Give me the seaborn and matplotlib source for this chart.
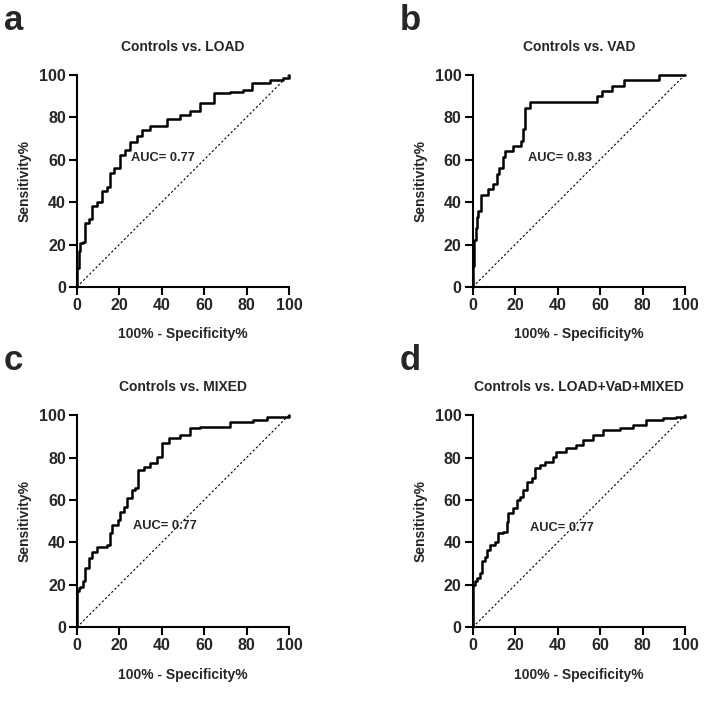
import pandas as pd
import seaborn as sns
import matplotlib.pyplot as plt

# ROC curve corners (100% - specificity, sensitivity)
load_fpr = [0, 0, 0.8, 1.6, 3.1, 3.9, 5.5, 7.1, 9.4, 11.8, 14.1, 15.7, 17.3, 20.4, 22.8, 25.1,
            28.3, 30.6, 34.5, 42.4, 48.7, 53.4, 58.1, 64.4, 72.2, 78.5, 82.4, 91, 97.3, 100]
load_tpr = [0, 9, 17, 20.5, 21, 30, 32, 38, 40, 45, 47, 53.5, 56, 62, 64.5, 68.5,
            71, 74, 76, 79, 81, 82.7, 86.6, 91.3, 92, 93, 96, 97.6, 98.4, 100]

vad_fpr = [0, 0, 0.5, 0.8, 1.3, 1.9, 2.7, 3.9, 7.1, 9.4, 11.3, 12.2, 14.1, 15.4, 18.8, 22.8,
           23.5, 24.6, 27.2, 57.5, 58.5, 61, 65.5, 71.5, 88, 100]
vad_tpr = [0, 10, 16, 22, 28, 33, 36, 43.2, 46.3, 48.7, 53.4, 56.2, 61.2, 64.1, 66.2, 69,
           74.6, 84.3, 87, 87, 90, 92.3, 94.9, 97.4, 100, 100]

mixed_fpr = [0, 0, 0.8, 1.6, 3.1, 3.9, 5.5, 7.1, 9.4, 14.1, 15.7, 16.5, 19.6, 20.4, 22, 23.5,
             25.9, 27.5, 29, 31.4, 34.5, 37.7, 40, 43.2, 48.7, 53.4, 58.1, 72.2, 83.2, 89.5, 100]
mixed_tpr = [0, 17, 18.4, 19.2, 21.6, 27.8, 32.5, 35.7, 38, 38.8, 44.3, 48.2, 50.6, 54.5, 56.9, 60.8,
             64.7, 65.5, 74.1, 75.7, 77.3, 80.4, 86.7, 89, 90.6, 93.7, 94.5, 96.9, 97.6, 99.2, 100]

all_fpr = [0, 0, 1.1, 1.9, 3.4, 4.2, 5.8, 6.6, 8.1, 10.5, 12, 14.4, 16, 16.7, 19.1, 20.7,
           22.2, 23.8, 25.4, 27.7, 29.3, 31.6, 34, 37.9, 39.4, 44.1, 48.8, 51.9, 56.7, 61.3,
           69.2, 75.4, 81.7, 89.5, 95.8, 100]
all_tpr = [0, 20, 21.6, 23, 25.5, 31, 33.3, 36.5, 38.8, 40.4, 44.3, 45, 49.8, 53.7, 56, 60,
           61.6, 64.7, 68.6, 70.2, 74.9, 76.5, 78, 80.4, 82.7, 84.3, 85.9, 88.2, 90.6, 92.9,
           93.7, 95.3, 97.6, 98.4, 99.2, 100]

letters = ["a", "b", "c", "d"]
titles = ["Controls vs. LOAD", "Controls vs. VAD", "Controls vs. MIXED", "Controls vs. LOAD+VaD+MIXED"]
auc_labels = ["AUC= 0.77", "AUC= 0.83", "AUC= 0.77", "AUC= 0.77"]
auc_pos = [(25.5, 61), (26, 61), (26.4, 47.5), (27, 47)]
curves = [(load_fpr, load_tpr), (vad_fpr, vad_tpr), (mixed_fpr, mixed_tpr), (all_fpr, all_tpr)]
ticks = [0, 20, 40, 60, 80, 100]

sns.set_theme(style="ticks")
plt.rcParams['font.family'] = ['Liberation Sans', 'DejaVu Sans']
plt.rcParams['font.weight'] = 'bold'

fig = plt.figure(figsize=(7.12, 7.12), dpi=100)
positions = [[0.108, 0.597, 0.298, 0.298], [0.664, 0.597, 0.298, 0.298],
             [0.108, 0.119, 0.298, 0.298], [0.664, 0.119, 0.298, 0.298]]

for i, pos in enumerate(positions):
    ax = fig.add_axes(pos)
    fpr, tpr = curves[i]
    roc = pd.DataFrame({"fpr": fpr, "tpr": tpr})
    ref = pd.DataFrame({"fpr": [0, 100], "tpr": [0, 100]})

    # chance line
    sns.lineplot(data=ref, x="fpr", y="tpr", color="black", linewidth=0.8,
                 linestyle=(0, (2, 2)), ax=ax, clip_on=False)
    # stepped ROC curve
    sns.lineplot(data=roc, x="fpr", y="tpr", estimator=None, sort=False,
                 drawstyle="steps-post", color="black", linewidth=1.8, ax=ax, clip_on=False)

    ax.set_xlim(0, 100)
    ax.set_ylim(0, 100)
    ax.set_xticks(ticks)
    ax.set_yticks(ticks)
    ax.tick_params(width=1.5, length=6, labelsize=11.5, pad=2, color="black")
    for lab in ax.get_xticklabels() + ax.get_yticklabels():
        lab.set_fontweight("bold")
    sns.despine(ax=ax)
    for sp in ["left", "bottom"]:
        ax.spines[sp].set_linewidth(1.5)
        ax.spines[sp].set_color("black")

    ax.set_title(titles[i], fontsize=10, fontweight="bold", pad=17)
    ax.set_xlabel("100% - Specificity%", fontsize=10, fontweight="bold")
    ax.set_ylabel("Sensitivity%", fontsize=10, fontweight="bold")
    ax.xaxis.set_label_coords(0.5, -0.19)
    ax.yaxis.set_label_coords(-0.215, 0.5)
    ax.text(auc_pos[i][0], auc_pos[i][1], auc_labels[i], fontsize=9.3, fontweight="bold",
            va="center", ha="left")
    ax.text(-0.345, 1.212, letters[i], transform=ax.transAxes, fontsize=25,
            fontweight="bold", va="baseline", ha="left")

plt.savefig("out.png", dpi=100)
